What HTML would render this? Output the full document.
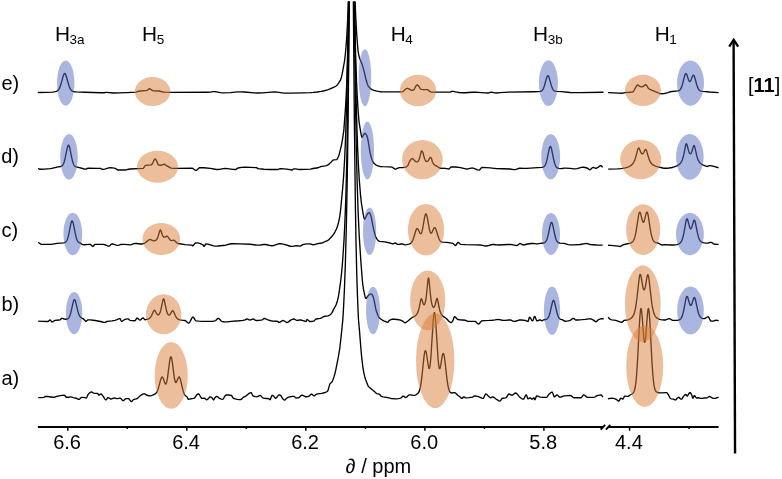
<!DOCTYPE html>
<html><head><meta charset="utf-8">
<style>
html,body{margin:0;padding:0;background:#fff;}
svg{display:block;}
text{font-family:"Liberation Sans",sans-serif;fill:#000;}
.tr polyline{fill:none;stroke:#000;stroke-width:1.35;stroke-linejoin:round;stroke-linecap:butt;}
ellipse.b{fill:rgb(85,109,193);fill-opacity:0.5;}
ellipse.o{fill:rgb(217,125,55);fill-opacity:0.5;}
</style></head>
<body>
<svg width="782" height="479" viewBox="0 0 782 479">
<defs><clipPath id="cp"><rect x="0" y="1.5" width="782" height="470"/></clipPath></defs>
<rect width="782" height="479" fill="#fff"/>
<g font-size="20" style="will-change:transform">
<text x="54.9" y="40.75" font-size="20.8">H<tspan font-size="13.5" dx="-0.5" dy="3">3a</tspan></text>
<text x="142.1" y="40.75" font-size="20.8">H<tspan font-size="13.5" dx="-0.5" dy="3">5</tspan></text>
<text x="390.7" y="40.75" font-size="20.8">H<tspan font-size="13.5" dx="-0.5" dy="3">4</tspan></text>
<text x="533.1" y="40.75" font-size="20.8">H<tspan font-size="13.5" dx="-0.5" dy="3">3b</tspan></text>
<text x="654.8" y="40.75" font-size="20.8">H<tspan font-size="13.5" dx="-0.5" dy="3">1</tspan></text>
<text x="1.4" y="90.1">e)</text>
<text x="1.2" y="162.9">d)</text>
<text x="1.4" y="236.9">c)</text>
<text x="1.4" y="311.1">b)</text>
<text x="1.4" y="385">a)</text>
<text x="748" y="92.4">[<tspan font-weight="bold">11</tspan>]</text>
<g text-anchor="middle">
<text x="67.1" y="449">6.6</text>
<text x="186.1" y="449">6.4</text>
<text x="305.1" y="449">6.2</text>
<text x="424.2" y="449">6.0</text>
<text x="543.2" y="449">5.8</text>
<text x="628.9" y="449">4.4</text>
</g>
<text x="345.8" y="472.5">∂ / ppm</text>
</g>
<g class="tr" clip-path="url(#cp)">
<polyline points="37.8,92.54 46.05,92.41 52.3,92.13 54.05,91.87 56.05,91.45 56.8,91.19 57.55,90.75 58.3,90.05 58.8,89.38 59.8,87.42 60.8,84.57 63.3,75.63 64.05,73.91 64.55,73.43 64.8,73.41 65.3,73.84 66.05,75.5 68.8,85.26 69.55,87.36 70.55,89.37 71.55,90.59 72.05,90.97 72.8,91.36 74.3,91.74 76.55,91.95 84.55,92.28 101.55,92.75 104.05,92.77 105.8,92.39 106.55,92.38 113.8,92.98 119.55,92.91 126.55,92.65 136.05,92.09 136.55,91.97 138.05,91.38 138.8,91.23 146.8,90.43 147.3,90.27 148.8,88.88 149.3,88.69 150.05,88.92 152.8,90.75 159.55,91 161.05,91.52 162.05,91.76 163.8,92.09 165.05,92.2 171.55,92.3 206.05,92.26 210.3,92.18 213.3,91.69 214.55,91.6 216.3,91.79 220.55,92.68 222.55,92.8 230.55,92.57 237.55,91.9 240.3,91.8 244.55,91.99 254.05,92.85 258.05,93 262.3,92.84 271.3,92.12 275.05,92 277.3,92.15 283.8,93.06 289.8,93.08 303.55,92.81 310.3,92.59 313.3,92.39 317.3,91.96 321.3,91.39 324.3,90.73 327.55,89.83 330.05,88.9 334.05,87.15 336.05,85.98 337.3,84.94 338.8,82.96 340.3,80.4 341.05,78.58 342.05,74.66 344.5,61.25 345.28,54.75 346.02,46.9 346.76,36.61 347.41,24.99 348.04,10.96 348.66,-6 354.81,-6 355.64,14.35 356.48,30.49 357.51,44.9 358.1,51.25 358.35,52.63 359.1,56.35 359.6,58.15 360.1,59.52 361.85,63.61 363.1,67.62 364.6,73.34 365.85,79.01 367.35,84 367.85,85.21 368.35,86.11 369.6,87.81 371.1,89.1 372.6,89.85 374.1,90.36 375.85,90.81 379.35,91.57 381.1,91.79 387.6,91.89 395.35,91.88 399.85,91.81 402.85,91.6 403.35,91.4 404.85,89.82 405.85,89.04 406.6,88.55 407.1,88.4 407.6,88.44 408.35,88.68 409.85,89.37 411.1,90.1 411.6,90.28 412.6,90.21 413.85,89.77 414.35,89.09 415.35,86.93 416.35,85.45 416.85,84.93 417.1,84.81 417.6,84.94 418.1,85.43 419.1,86.73 420.1,88.45 420.6,89.09 421.6,89.4 422.85,89.57 427.35,89.61 427.85,89.84 429.1,90.89 430.35,91.71 430.85,91.97 431.35,92.1 437.6,92.19 450.1,92.19 450.6,92 451.6,91.39 452.1,91.3 453.1,91.4 455.6,91.93 459.1,92.46 462.35,92.79 465.1,92.75 472.1,92.28 475.35,92.2 478.35,92.33 485.1,92.89 488.1,92.99 488.85,92.84 490.35,92.29 491.1,92.19 492.35,92.34 494.85,92.89 496.1,92.99 500.1,92.58 508.35,92.13 533.35,91.74 538.85,91.55 540.35,91.35 541.35,90.99 542.35,90.18 543.1,89.08 543.6,88.04 544.35,85.97 546.35,78.69 546.85,77.17 547.35,76.12 547.6,75.83 547.85,75.7 548.1,75.76 548.35,75.98 548.6,76.37 549.1,77.57 551.35,85.61 552.35,88.33 552.85,89.29 553.6,90.28 554.35,90.86 555.1,91.18 556.85,91.45 561.35,91.69 570.1,92.46 573.85,92.66 580.1,92.64 603.5,92.29"/>
<polyline points="608.1,92.59 618.85,93.2 622.1,93.29 622.85,93.18 625.1,92.6 630.1,92.27 631.85,92.05 633.1,91.67 633.6,91.31 635.85,87.03 636.35,86.24 637.35,85.02 637.6,84.89 637.85,84.9 638.35,85.23 639.35,86.2 640.6,86.72 641.6,86.87 642.35,86.72 643.6,86.16 644.85,84.92 645.35,84.67 645.85,84.84 646.35,85.3 647.1,86.19 648.35,88.31 649.35,89.08 651.6,90.17 658.35,92.96 659.35,93.3 660.6,93.57 662.1,93.72 663.85,93.57 665.6,93.22 668.1,92.54 669.85,91.77 678.1,90.87 679.1,90.51 679.85,89.99 680.6,89.09 681.35,87.66 681.85,86.34 682.6,83.83 684.6,75.86 685.35,73.99 685.6,73.7 685.85,73.59 686.1,73.68 686.6,74.36 687.1,75.58 688.6,80.02 689.1,81 689.6,81.47 689.85,81.5 690.1,81.39 690.6,80.78 691.1,79.75 692.35,76.54 692.85,75.6 693.1,75.32 693.35,75.19 693.6,75.24 693.85,75.45 694.35,76.36 694.85,77.79 696.6,84.29 697.6,87.34 698.1,88.47 698.85,89.69 699.35,90.23 700.1,90.77 701.1,91.14 702.85,91.42 709.6,92.03 718.7,92.63"/>
<polyline points="38.2,168.37 39.2,169.01 39.95,169.27 44.7,169.12 50.2,168.7 51.7,168.44 58.2,166.92 60.7,166.48 61.45,166.21 61.95,165.92 62.7,165.18 63.2,164.41 63.7,163.33 64.2,161.92 65.2,157.98 67.2,148.05 67.95,145.66 68.2,145.27 68.45,145.1 68.7,145.18 68.95,145.5 69.45,146.78 69.95,148.77 71.7,157.66 72.45,160.9 73.2,163.31 73.7,164.47 74.2,165.33 74.7,165.94 75.2,166.36 76.2,166.84 78.45,167.3 83.45,168.76 85.45,169.09 86.2,169.09 87.45,168.39 87.95,168.23 97.2,168.32 100.2,168.39 100.7,168.52 102.45,169.29 103.2,169.37 104.7,169.14 108.7,167.93 110.45,167.79 112.7,167.94 115.2,168.34 115.7,168.6 117.2,169.72 117.95,169.99 124.95,169.99 126.2,169.86 128.7,169.21 129.95,169 142.95,168.41 143.2,168.37 143.45,168.19 144.7,166.3 145.45,165.42 145.7,165.3 151.45,164.85 151.95,164.34 152.7,163.07 153.95,160.27 154.7,159.22 154.95,159.03 155.2,159.01 155.7,159.39 156.45,160.52 157.95,164.14 158.45,165.03 158.7,165.2 160.7,165.28 163.7,164.32 164.45,164.2 164.95,164.4 165.95,165.36 167.95,166.38 170.95,168.15 173.7,168.33 177.45,168.4 192.2,168.21 192.7,168.38 193.2,168.67 195.2,170.17 195.95,170.4 196.45,170.3 196.95,170 198.95,168.08 199.45,167.74 199.95,167.6 203.95,167.75 210.2,168.32 215.45,169.26 217.45,169.49 219.45,169.39 223.2,168.66 224.95,168.5 227.2,168.61 232.95,169.33 235.7,169.5 236.2,169.34 237.45,168.29 237.95,168.01 241.45,167.41 244.95,167.2 250.95,167.31 255.7,167.65 256.95,167.79 257.2,167.91 257.95,168.69 263.95,169.23 269.95,169.46 277.95,169.5 278.45,169.4 279.7,168.75 281.2,168.72 283.7,168.86 286.7,169.17 289.95,169.59 291.95,170 292.45,169.84 293.45,169.02 293.95,168.8 295.45,168.9 298.45,169.38 299.7,169.49 305.45,169.41 310.45,169.15 312.95,168.51 318.2,167.75 320.7,166.68 325.2,165.95 326.45,165.54 327.95,164.83 328.95,164.15 330.7,162.6 332.45,160.65 333.2,160.04 333.7,159.89 336.7,159.67 337.2,159.1 338.2,157.07 338.95,155.05 339.45,153.33 341.45,145.04 342.45,139.55 343.7,131.06 343.95,128.66 345.57,106.75 346.26,94.29 346.85,80.77 347.48,63.01 348.03,43.76 349.11,-6 354.19,-6 355.35,45.31 355.97,65.82 356.61,82.91 357.36,98.31 358.15,110.92 359,121.25 359.75,126.3 361.25,135.14 361.75,137.16 362,137.28 362.25,137.04 364,134.15 364.5,133.5 364.75,133.33 365,133.31 365.5,133.61 366.25,134.6 366.75,135.5 367.25,136.99 368,140 369.75,150.79 370.75,155.53 371.5,158.26 372.25,160.46 373.25,162.28 374.25,163.56 375.75,164.81 376.75,165.38 378,165.93 379.75,166.47 382.75,166.7 389.25,166.95 392,167.2 392.75,167.53 394.25,168.73 395,169.08 395.5,169.08 396.25,168.9 398.5,167.87 399.5,167.55 403.25,167.46 405.75,167.17 406.75,166.61 407.75,165.61 408.25,164.63 409.25,162.12 410.25,160.23 411,159.31 412,158.56 412.5,158.54 412.75,158.67 414,159.9 415,161.1 415.75,161.61 416.5,161.87 417,161.88 417.5,161.65 418,161.23 418.5,160.7 419,159.71 420,156.46 421,152.3 421.5,150.96 421.75,150.93 422.25,151.4 423,152.77 424,156.81 424.75,159.18 425.25,160.43 425.75,161.05 426.25,161.46 426.75,161.6 427.25,161.45 427.75,161.11 428.5,160.37 429.5,158.2 430,157.54 430.25,157.34 430.5,157.31 431,157.77 431.5,158.62 432.5,162 433.25,163.49 433.75,164.23 434.75,165.08 436.25,165.91 439.5,167.96 440.25,168.27 445.25,168.31 448,168.89 449,169 449.5,168.68 450.5,167.31 451,167 455.75,167.01 460.5,167.58 464.75,168.7 466.5,168.98 468,168.89 471.25,168.06 472.5,168.03 474,168.43 477.5,169.94 479,170.19 479.25,170.14 479.75,169.77 481.25,167.92 481.75,167.55 482,167.49 485.75,167.57 490.25,167.81 494,168.39 495.75,168.53 510,168.98 513.75,169.58 515,169.68 516.25,169.44 518.75,168.41 519.75,168.18 524.25,168.44 526.5,168.43 541.75,167.44 543,167.19 544,166.67 544.75,165.88 545.5,164.53 546.25,162.43 546.75,160.57 549.25,148.77 549.75,147.24 550,146.77 550.25,146.53 550.5,146.53 550.75,146.76 551,147.22 551.5,148.75 553.75,159.77 554.5,162.84 555,164.42 555.5,165.65 556.25,166.91 557,167.66 557.75,168.07 559,168.4 560.75,168.56 562,168.53 564.5,168.19 565.5,168.19 570.25,168.45 573.75,168.89 575.25,168.95 577,168.7 581.5,167.43 582.5,167.29 583.5,167.29 585,167.49 587,167.98 587.75,168.4 589.25,169.58 590,169.78 590.75,169.36 592,168.05 592.75,167.53 593.5,167.54 595.5,168.23 596,168.29 596.5,168.21 597.5,167.68 599.5,166.16 600.5,165.72 601,165.71 601.5,165.96 602.7,167.19"/>
<polyline points="608.2,169.15 617.45,168.85 620.45,168.65 622.45,168.4 625.2,167.88 627.2,167.32 629.2,166.52 630.7,165.67 631.7,164.88 632.7,163.81 633.45,162.73 634.2,161.33 634.95,159.52 635.7,157.19 637.7,149.6 638.2,148.42 638.45,148.12 638.7,148.03 638.95,148.14 639.45,148.89 640.7,151.97 641.2,152.98 641.7,153.65 642.2,153.93 642.7,153.81 643.2,153.31 643.7,152.48 644.7,150.42 645.2,149.67 645.45,149.5 645.7,149.49 645.95,149.67 646.2,150.03 646.7,151.23 648.7,158.07 649.95,161.16 650.7,162.47 651.7,163.74 652.7,164.64 653.95,165.43 655.45,166.07 657.95,166.8 662.95,168.02 664.45,168.26 666.7,168.26 669.2,168.01 672.2,167.5 674.2,166.94 676.95,165.93 678.7,164.93 679.45,164.33 680.2,163.56 681.45,161.73 682.45,159.46 683.2,157.05 683.95,153.85 685.45,146.03 685.95,144.25 686.2,143.81 686.45,143.71 686.7,143.95 687.2,145.28 688.45,150.33 688.95,151.94 689.45,153.07 689.7,153.45 690.2,153.82 690.45,153.82 690.7,153.69 690.95,153.43 691.45,152.56 691.95,151.23 693.45,146.22 693.7,145.75 693.95,145.55 694.2,145.65 694.45,146.05 694.95,147.65 696.7,155.63 697.7,158.93 698.45,160.66 699.2,161.93 699.95,162.87 700.95,163.79 702.7,164.82 706.7,166.43 707.45,166.49 709.45,165.63 710.2,165.59 712.95,166.13 718.6,167.74"/>
<polyline points="38.2,242.16 40.45,243.92 41.2,244.3 41.95,244.45 51.2,244.36 57.2,243.42 63.7,242.86 64.7,242.62 65.45,242.24 66.2,241.55 66.7,240.81 67.2,239.78 67.7,238.41 68.7,234.55 70.95,223.37 71.45,221.77 71.7,221.28 71.95,221.01 72.2,220.99 72.45,221.21 72.7,221.67 73.45,224.23 75.2,233.19 76.2,237.5 76.95,239.77 77.45,240.84 77.95,241.62 78.45,242.16 78.95,242.53 80.45,243.14 81.95,244.27 82.7,244.68 84.2,244.74 88.7,244.4 90.2,244.39 90.95,244.85 92.2,246.03 92.95,246.38 93.2,246.33 93.45,246.12 94.45,244.76 94.95,244.39 103.45,244.42 104.7,244.74 107.7,245.97 108.95,246.18 109.2,246.15 109.7,245.86 111.2,244.28 111.7,243.93 111.95,243.87 113.2,244.02 116.45,245.1 117.95,245.33 118.95,245.18 120.95,244.48 121.95,244.3 124.7,244.4 130.2,244.94 131.45,244.65 133.95,243.67 135.2,243.44 136.7,243.49 140.7,244.04 141.7,244.03 142.7,243.86 143.95,243.42 145.2,242.78 146.45,241.89 148.7,239.99 149.7,239.51 150.2,239.48 150.7,239.56 152.95,240.59 153.95,240.83 154.95,240.75 155.95,240.22 156.7,239.41 157.45,238.12 158.2,236.16 159.7,230.94 159.95,230.37 160.2,230.04 160.45,230.01 160.7,230.27 160.95,230.77 162.2,234.53 162.7,235.73 163.2,236.56 163.95,237.18 164.7,237.2 166.45,236.29 166.95,236.26 167.2,236.34 167.95,236.97 169.7,239.4 170.7,240.34 171.2,240.56 171.7,240.61 173.45,240.21 174.2,240.37 174.95,240.93 176.7,242.72 177.45,243.22 178.2,243.51 184.95,244.58 191.45,245.17 191.95,245.25 192.45,245.76 192.7,245.74 193.2,245.45 194.95,243.38 195.45,242.95 195.95,242.81 197.45,242.92 198.7,243.15 200.2,243.58 201.45,244.08 202.95,244.84 203.2,245.1 203.7,246.09 203.95,246.37 204.2,246.31 204.45,246.06 205.45,244.35 205.7,244.04 205.95,243.89 207.7,244.11 213.7,245.92 215.2,246.12 217.95,245.98 225.2,245.22 226.45,244.96 229.95,244.01 231.95,243.76 240.45,243.89 250.2,244.28 255.7,245.02 257.7,245.17 259.7,245.07 263.7,244.54 265.45,244.49 266.95,244.73 270.45,245.62 271.95,245.78 272.95,245.7 273.95,245.47 278.45,243.89 279.45,243.71 280.45,243.69 281.7,243.83 283.2,244.14 290.45,246.24 291.45,246.45 292.7,246.43 294.95,245.91 295.95,245.79 299.95,246.19 300.7,245.98 302.7,244.58 304.95,244.17 307.7,243.87 310.2,243.8 310.95,244.03 312.45,244.7 313.2,244.79 314.45,244.58 317.7,243.55 321.95,243 322.95,242.64 324.95,241.51 327.45,240.57 328.45,239.98 330.95,237.5 332.95,235.06 334.95,232.01 336.45,228.99 337.7,225.5 338.7,221.81 339.7,216.83 340.45,211.46 342.7,187.88 343.64,175.96 344.68,158.2 345.55,137.81 346.42,109.95 347.17,77.96 347.88,38.29 348.51,-6 354.48,-6 355.61,71.37 356.24,101.89 356.9,126.99 357.61,147.62 358.46,166.11 359.38,181.01 360.6,196.04 361.35,202.73 362.35,209.17 363.35,214.79 364.1,218.38 364.35,219.14 364.6,219.26 365.1,218.67 367.35,213.96 368.1,213.24 368.85,212.77 369.35,212.69 369.6,212.84 369.85,213.19 370.6,214.94 371.1,216.53 373.6,229.23 375.1,235.09 375.6,236.58 376.1,237.66 377.1,239.35 378.1,240.61 378.85,241.12 379.85,241.36 384.85,241.94 389.1,242.74 390.35,243.06 392.6,243.91 393.35,243.86 394.6,243.04 395.1,242.94 395.6,243.09 397.1,244.1 397.85,244.41 398.85,244.35 401.1,243.96 402.1,243.88 402.85,244.07 404.35,244.73 405.35,244.82 406.6,244.65 408.85,244.14 409.6,243.92 410.35,243.57 411.1,242.98 411.6,242.4 412.6,240.64 413.6,237.96 415.85,230.51 416.35,229.38 416.85,228.72 417.1,228.6 417.35,228.61 417.85,229.01 418.35,229.83 419.6,232.56 420.35,233.63 420.6,233.75 420.85,233.72 421.35,233.18 421.85,231.94 422.6,228.82 424.35,218.61 424.85,216.16 425.35,214.49 425.6,214.01 425.85,213.81 426.1,213.88 426.35,214.22 426.85,215.67 427.35,217.94 429.35,229.22 430.1,231.96 430.6,232.93 430.85,233.16 431.1,233.22 431.6,232.88 432.1,232.07 433.85,228.25 434.35,227.69 434.6,227.6 434.85,227.64 435.35,228.14 436.1,229.79 438.1,236.34 438.85,238.44 439.6,240 440.1,240.76 440.6,241.3 441.35,241.82 442.35,242.13 446.85,242.43 451.6,243.1 452.85,243.37 453.35,243.61 454.85,245.36 455.35,245.62 455.6,245.57 456.1,245.06 457.1,243.32 457.6,242.64 457.85,242.47 458.1,242.44 458.85,242.82 460.1,243.98 460.85,244.42 465.6,244.66 475.85,244.83 480.1,244.98 481.35,245.15 484.6,245.85 485.85,245.98 487.6,245.78 491.1,244.75 492.6,244.49 493.85,244.52 496.85,244.91 498.1,244.98 507.6,244.53 510.35,244.48 511.85,244.65 515.35,245.33 517.1,245.46 517.6,245.26 519.1,243.9 519.85,243.48 520.6,243.62 522.35,244.78 523.1,244.96 524.6,244.76 527.6,244.01 531.35,243.51 533.35,243.43 536.1,243.82 537.1,243.87 540.35,243.33 543.6,243.02 544.6,242.67 545.35,242.13 546.1,241.17 546.85,239.59 547.35,238.12 548.1,235.25 550.35,224.68 550.85,223.16 551.1,222.69 551.35,222.44 551.6,222.42 551.85,222.62 552.1,223.05 552.6,224.5 553.1,226.55 554.85,235.03 555.85,238.75 556.35,240.08 557.1,241.47 557.85,242.3 558.6,242.76 560.1,243.13 564.1,243.44 568.1,244.63 569.85,244.92 574.1,244.84 580.1,244.46 585.1,243.63 586.85,243.48 587.6,243.57 589.35,244.31 590.35,244.52 596.6,245.02 602.7,245.19"/>
<polyline points="608.1,245.28 610.6,245.33 613.6,245.57 618.1,246.1 619.35,246.44 620.1,246.51 620.85,246.23 622.85,244.92 625.35,244.23 629.1,243.44 630.35,243.09 631.6,242.54 632.6,241.76 633.35,240.8 633.85,239.87 634.6,237.91 635.1,236.13 635.6,233.92 636.35,229.81 638.6,215.17 639.1,213.07 639.35,212.44 639.6,212.11 639.85,212.09 640.1,212.36 640.6,213.67 642.35,220.69 642.85,221.87 643.1,222.18 643.35,222.28 643.6,222.18 643.85,221.87 644.35,220.69 645.85,214.59 646.35,212.89 646.6,212.34 646.85,212.06 647.1,212.07 647.35,212.39 647.85,213.94 648.35,216.47 650.1,228.09 650.85,232.46 651.6,235.91 652.6,239.05 653.1,240.09 653.6,240.87 654.1,241.45 654.85,242.05 656.1,242.62 658.6,243.26 661.35,244.84 662.35,244.99 664.85,244.6 670.85,245 673.35,245.01 675.1,244.9 676.85,244.57 678.35,244.09 679.35,243.58 680.35,242.77 681.1,241.82 681.6,240.94 682.35,239.13 682.85,237.52 683.85,233.22 686.1,220.77 686.6,219.18 686.85,218.82 687.1,218.76 687.35,219.02 687.85,220.28 689.6,227.05 690.1,228.24 690.6,228.77 690.85,228.78 691.1,228.62 691.35,228.28 691.85,227.16 693.35,221.83 693.85,220.51 694.1,220.17 694.35,220.09 694.6,220.3 694.85,220.79 695.35,222.5 697.35,232.69 698.35,236.68 698.85,238.18 699.6,239.85 700.35,240.97 701.1,241.71 702.1,242.31 703.1,242.66 704.35,242.92 705.85,243.08 708.1,243.06 710.35,242.38 711.1,242.34 711.85,242.65 713.1,243.57 713.85,243.96 716.1,244.28 718.6,244.44"/>
<polyline points="38.2,321.17 42.45,321.41 47.95,321.45 48.45,321.26 49.45,320.23 49.95,319.95 50.2,320 50.45,320.2 51.7,321.82 51.95,321.93 52.2,321.92 52.7,321.75 54.2,320.77 54.95,320.43 58.95,320.04 60.2,319.79 61.45,318.6 61.95,318.34 62.7,318.43 64.2,319.02 64.95,319.21 66.7,319.22 67.7,318.91 68.45,318.33 68.95,317.69 69.45,316.8 69.95,315.6 70.95,312.2 73.2,302.14 73.95,300.09 74.2,299.78 74.45,299.67 74.7,299.78 74.95,300.1 75.45,301.28 76.2,304.07 77.95,311.58 78.7,314.02 79.45,315.75 79.95,316.55 80.7,317.37 81.7,318.06 83.45,318.92 85.45,321.08 85.95,321.3 86.2,321.26 86.7,320.89 87.45,320.11 87.95,319.84 89.95,319.93 93.2,320.21 95.2,320.49 100.45,321.51 103.45,322.25 104.7,322.41 105.45,322.31 106.95,321.43 111.95,320.92 115.2,320.36 116.2,319.99 118.45,318.93 119.7,318.6 119.95,318.59 120.2,318.72 121.2,321.09 121.45,321.37 121.95,321.3 122.45,321.06 124.7,319.47 126.2,319.06 127.45,318.86 128.2,318.87 128.45,319.01 129.45,319.99 129.95,320.3 132.2,320.63 134.45,320.74 135.2,320.66 135.7,319.99 136.45,318.59 136.7,318.26 136.95,318.1 137.2,318.11 137.7,318.36 139.2,319.75 139.95,320.09 140.2,320.05 140.7,319.78 142.2,318.32 142.95,317.92 143.2,317.95 143.45,318.13 144.45,319.41 144.95,319.72 146.7,319.45 148.2,319.02 149.45,318.34 150.2,317.65 150.7,317.02 151.7,315.29 153.45,311.28 153.95,310.52 154.2,310.33 154.45,310.29 154.95,310.65 156.7,313.73 157.45,314.64 157.95,314.93 158.45,314.92 158.95,314.6 159.2,314.3 159.95,312.84 160.7,310.46 162.95,300.03 163.2,299.34 163.45,298.96 163.7,298.93 163.95,299.25 164.45,300.8 165.95,308.22 166.7,311.31 167.45,313.45 168.2,314.69 168.45,314.91 168.95,315.1 169.2,315.08 169.7,314.81 170.45,313.92 171.7,311.69 172.2,310.97 172.7,310.69 172.95,310.76 173.2,310.99 173.7,311.81 175.2,315.33 175.95,316.8 176.7,317.9 177.45,318.67 178.45,319.32 179.95,319.85 181.7,320.17 184.95,320.47 185.45,320.61 186.2,321.19 187.7,322.72 188.45,323.13 188.95,323.05 189.45,322.57 190.2,321.33 191.95,317.93 192.45,317.31 192.95,317.06 193.2,317.11 193.7,317.57 195.2,320.09 195.7,320.67 195.95,320.8 198.95,321.13 202.2,321.33 210.7,321.4 212.7,321.27 214.95,320.94 215.7,320.53 217.45,318.67 217.95,318.38 218.2,318.34 218.7,318.47 219.2,318.83 220.95,320.74 221.7,321.33 223.7,321.76 225.7,321.95 227.2,321.87 231.2,321.33 239.2,320.75 242.7,320.36 245.2,319.91 246.45,319.14 246.95,318.97 247.7,319.11 249.2,319.8 249.95,319.97 250.7,319.84 252.45,319.06 253.2,319 253.7,319.18 255.2,320.21 255.7,320.44 256.95,320.47 259.2,320.34 262.2,319.92 263.7,318.71 264.2,318.49 264.45,318.49 265.45,318.75 267.95,319.97 270.7,320.75 272.45,321.04 276.2,321.26 277.95,321.48 278.2,321.61 278.95,322.48 279.45,322.42 279.95,322.2 281.95,320.83 282.45,320.59 282.95,320.49 283.45,320.56 283.95,320.77 286.2,322.28 286.95,322.49 287.45,322.42 288.45,321.88 290.7,320.14 292.7,319.25 293.95,318.99 294.7,319.2 296.2,320.23 296.7,320.45 297.45,320.46 299.7,320 300.7,320.03 303.2,320.54 305.2,321.35 305.95,321.49 306.2,321.28 306.7,319.92 306.95,319.51 307.2,319.52 307.95,319.97 309.45,321.31 309.95,321.49 310.95,321.46 312.7,321.26 314.2,320.9 315.45,319.41 315.95,319.01 320.2,318.44 320.95,318.15 322.95,316.96 323.95,316.51 325.2,316.22 327.7,315.83 328.95,315.51 329.95,314.98 330.95,314.09 331.95,312.84 333.95,308.59 335.45,306.1 336.2,304.52 337.45,300.68 338.45,296.28 339.2,291.62 340.45,282.74 341.7,271.99 342.7,260.06 344.03,239.78 344.88,222.53 345.67,201.58 346.34,178.89 346.97,151.86 348.1,85.88 349.23,-6 354.06,-6 354.82,56.86 355.57,107.6 356.33,148.55 357.21,184.28 358.15,212.56 359.17,234.95 360.85,261.12 362.35,280.52 362.85,284.93 363.6,289.89 364.85,295.83 365.35,297.6 365.6,298.15 365.85,298.4 366.1,298.36 366.35,298.19 367.85,296.07 369.1,294.73 369.6,294.34 370.1,294.18 371.6,294.09 371.85,294.14 372.1,294.4 373.1,296.64 373.6,298.3 374.35,301.48 375.6,308.22 376.35,311.04 377.85,315.28 378.6,316.77 379.1,317.47 380.35,318.71 382.35,320.04 384.35,321.04 386.6,321.98 387.35,322.21 388.1,322.24 388.85,320.93 389.1,320.7 390.85,319.71 392.35,319.26 394.1,319.22 397.1,319.51 400.6,320.2 401.6,320.63 403.1,321.46 404.6,322.69 405.1,322.76 405.85,322.44 407.6,321.18 412.1,317.47 412.85,317.03 414.35,316.36 415.35,315.7 416.35,314.73 417.1,313.67 417.85,312.17 418.35,310.8 419.35,306.86 420.6,300.41 421.1,298.92 421.35,298.75 421.6,298.97 421.85,299.52 422.85,302.85 423.35,304.09 423.6,304.47 423.85,304.68 424.1,304.71 424.35,304.57 424.85,303.73 425.1,303.02 425.85,299.56 426.35,295.97 427.6,283.25 428.1,279.07 428.35,278.06 428.6,277.99 428.85,278.88 429.1,280.61 430.35,293.8 431.1,300.05 431.85,304.09 432.6,306.41 433.1,307.2 433.6,307.45 434.1,307.19 434.35,306.86 435.1,304.99 436.6,298.98 436.85,298.48 437.1,298.4 437.35,298.77 437.85,300.69 438.85,306.25 439.6,309.71 440.35,312.14 441.1,313.82 441.85,314.99 442.85,316.07 446.35,318.49 448.85,321.23 450.1,322.21 450.85,322.57 451.1,322.6 451.6,322.32 452.35,321.32 453.1,320.09 454.1,317.32 454.35,316.84 454.6,316.67 455.35,317.03 457.1,318.95 457.85,319.48 459.6,319.75 465.1,320.22 467.1,321.04 467.85,321.24 475.1,321.33 475.85,321.75 477.6,323.66 478.1,323.98 478.35,324.04 478.85,323.92 479.35,323.52 481.1,321.43 481.85,320.9 484.1,320.67 489.1,320.45 492.1,320.22 495.1,319.9 497.85,319.42 499.35,319.55 502.35,320.24 503.85,320.42 505.35,320.36 508.85,319.98 510.35,319.96 511.1,320.21 513.1,321.24 513.85,321.43 515.35,321.24 519.1,320.03 519.85,319.94 521.35,319.98 525.1,320.45 527.1,321.24 527.85,321.42 528.1,321.37 528.35,320.85 529.1,317.96 529.35,317.34 529.6,317.23 529.85,317.36 530.35,317.94 531.85,320.47 532.35,320.89 532.6,320.88 532.85,320.6 533.1,320.09 534.1,317.22 534.35,316.71 534.6,316.43 534.85,316.45 535.1,316.76 536.35,320.01 536.85,320.83 537.1,320.88 537.6,320.77 539.35,319.97 540.1,319.85 540.6,320.05 541.6,320.7 542.1,320.79 542.6,320.56 543.85,319.74 545.6,319.53 546.85,319.07 547.6,318.46 548.35,317.4 549.1,315.71 549.85,313.28 552.35,302.5 552.85,301.09 553.1,300.65 553.35,300.42 553.6,300.39 553.85,300.59 554.1,300.98 554.6,302.33 557.1,313.1 557.85,315.57 558.6,317.31 559.35,318.41 560.1,319.04 560.85,319.39 562.1,319.65 562.6,319.84 564.6,321.12 565.35,321.21 566.85,321.1 568.35,320.82 570.1,320.36 570.85,319.92 572.35,318.68 572.85,318.41 573.35,318.32 573.85,318.52 575.35,319.84 575.85,320.03 577.85,319.98 581.85,319.68 585.35,319.32 588.6,318.85 590.35,318.79 591.6,319.16 593.35,320.05 593.85,320.37 595.1,321.45 595.85,321.77 596.1,321.74 596.6,321.45 598.1,319.96 599.6,319.26 600.6,318.93 601.35,318.79 603.7,318.78"/>
<polyline points="608.1,317.17 609.6,318.77 610.35,319.34 610.85,319.58 611.85,319.81 614.35,320.11 615.6,320.35 618.6,321.31 620.6,322.1 621.6,322.26 622.1,322.15 622.35,321.99 623.6,320.73 624.1,320.38 627.35,319.96 628.6,319.56 629.85,319.02 631.35,318.06 632.6,316.73 633.6,314.95 634.35,312.92 635.1,310.05 635.6,307.55 636.85,298.98 639.1,278.78 639.6,275.77 639.85,274.84 640.1,274.36 640.35,274.32 640.6,274.72 641.1,276.62 642.6,285.64 643.1,287.99 643.6,289.45 643.85,289.81 644.1,289.91 644.35,289.74 644.6,289.31 645.1,287.72 645.6,285.29 646.85,277.74 647.35,275.52 647.6,274.89 647.85,274.66 648.1,274.88 648.6,276.62 649.1,279.86 651.35,299.86 652.1,305.18 652.85,309.3 653.85,313.13 654.85,315.52 655.35,316.34 656.1,317.26 656.85,317.93 657.6,318.43 659.1,319.13 660.6,319.58 662.35,319.89 664.35,320.03 665.6,319.97 668.35,318.85 669.1,318.69 669.6,318.7 670.35,319.01 672.1,320.19 672.85,320.45 675.6,320.39 677.6,320.22 679.1,319.87 680.1,319.34 680.85,318.64 681.35,317.92 682.1,316.35 682.6,314.88 683.6,310.82 685.85,299.02 686.35,297.28 686.6,296.74 686.85,296.44 687.1,296.4 687.35,296.61 687.85,297.66 689.35,303.01 689.85,304.44 690.35,305.3 690.6,305.48 690.85,305.49 691.1,305.32 691.6,304.5 692.1,303.15 693.35,299.01 693.85,297.87 694.1,297.57 694.35,297.48 694.6,297.63 694.85,298 695.6,300.32 697.35,308.67 698.35,312.73 698.85,314.26 699.6,315.95 700.1,316.74 700.85,317.53 701.6,318.01 702.35,318.3 703.6,318.57 704.35,318.63 705.35,318.25 707.35,316.97 707.85,316.81 708.35,316.82 708.85,317.39 710.35,320.5 710.85,321.06 713.35,321.13 715.35,320.33 715.85,320.22 717.35,320.36 718.6,320.76"/>
<polyline points="38.2,397.7 41.2,397.61 43.95,397.31 44.2,397.21 44.95,396.49 45.2,396.4 47.2,396.52 52.95,397.23 54.45,397.28 56.45,396.47 59.2,395.84 61.95,395.36 64.45,395.2 64.95,395.63 65.7,396.8 66.2,397.28 68.45,397.28 69.95,396.82 70.7,396.84 73.45,397.71 76.95,398.52 78.7,399.33 79.2,399.39 79.7,399.04 80.7,397.88 80.95,397.72 81.95,397.43 83.2,397.31 85.7,397.95 86.2,398 86.45,397.87 86.95,397 87.7,395.18 88.2,394.39 89.45,393.03 90.2,392.4 90.95,392.04 91.45,392.01 91.95,392.18 93.2,392.98 93.7,393.18 97.7,393.5 97.95,393.72 98.7,395.08 98.95,395.2 99.45,394.96 100.45,394.07 100.95,393.9 101.2,393.98 101.7,394.41 103.2,396.32 104.95,399.12 105.45,399.67 105.95,399.9 106.2,399.83 106.45,399.59 107.45,398.01 107.7,397.77 107.95,397.7 108.7,397.9 110.2,398.75 110.95,398.99 111.7,398.91 113.45,398.17 114.2,398 114.95,398.1 116.7,398.6 117.45,398.55 119.45,398.14 120.2,398.13 120.95,398.65 122.45,400.34 122.95,400.65 123.2,400.7 123.45,400.65 123.95,400.31 124.95,399.23 125.45,398.82 125.95,398.69 128.2,398.6 128.45,398.62 128.95,398.92 130.7,401.13 131.2,401.53 131.45,401.6 131.95,401.37 132.95,400.09 133.45,399.62 134.2,399.37 136.2,398.96 136.95,398.68 137.7,398.13 139.45,396.37 140.2,395.75 141.45,394.93 143.45,393.94 144.2,393.8 144.7,393.91 146.45,395 148.95,395.79 150.2,395.89 151.45,395.66 153.2,394.97 155.2,393.91 156.2,392.93 156.95,391.8 157.7,390.24 158.2,388.87 160.7,379.51 161.2,378.1 161.7,377.24 161.95,377.04 162.2,377.01 162.45,377.13 162.95,377.84 163.45,379.02 164.7,382.65 165.2,383.67 165.45,383.95 165.7,384.05 165.95,383.94 166.2,383.61 166.7,382.21 167.45,378.33 169.2,364.38 169.95,359.36 170.45,357.38 170.7,356.91 170.95,356.81 171.2,357.08 171.45,357.71 171.95,359.97 172.45,363.29 174.2,376.96 174.7,379.76 175.2,381.61 175.45,382.16 175.7,382.47 175.95,382.54 176.2,382.42 176.7,381.65 177.95,378.48 178.45,377.48 178.95,377 179.2,377 179.45,377.17 179.95,378.03 180.45,379.5 182.7,389.24 183.45,391.9 183.95,393.27 184.45,394.34 184.95,395.14 185.7,395.95 186.95,396.77 187.95,398.81 188.2,399.18 188.45,399.28 189.2,399.21 190.95,398.79 193.2,398.41 194.45,398.02 194.95,397.52 196.2,395.53 196.7,394.89 197.7,394.06 198.2,393.82 198.45,393.8 198.7,393.91 199.2,394.49 201.45,398.2 201.7,398.38 201.95,398.4 204.45,398.12 204.95,398.39 206.2,399.55 206.7,399.79 206.95,399.78 207.45,399.48 208.7,398.19 209.7,396.98 209.95,396.83 210.2,396.8 210.95,397.05 211.95,397.73 213.2,399.65 213.45,399.8 213.7,399.73 213.95,399.46 214.95,397.77 215.95,396.8 216.7,396.41 217.2,396.48 217.7,396.76 219.2,398.15 219.95,398.7 221.45,399.14 222.7,399.3 222.95,399.22 223.45,398.64 224.45,396.79 224.95,396.05 225.95,395.07 226.45,394.9 228.95,395.03 231.2,395.38 231.45,395.47 231.7,395.71 232.95,397.86 233.45,398.32 235.2,398.92 237.2,399.4 239.2,399.65 240.7,399.67 241.45,399.19 243.2,397.37 246.2,395.84 249.2,393.32 250.2,392.81 250.95,392.6 251.2,392.68 251.45,392.95 252.45,395 252.95,395.79 253.95,396.26 255.45,396.69 256.7,396.8 257.45,396.6 259.45,395.56 259.95,395.42 260.45,395.45 260.95,395.82 262.45,397.65 262.95,397.99 264.2,398.21 267.2,398.46 268.45,398.66 268.95,398.9 269.7,399.59 269.95,399.7 270.2,399.59 270.45,399.19 271.45,396.38 271.95,395.46 272.2,395.4 272.7,395.52 273.7,396.05 274.95,397.83 275.45,398.27 275.7,398.29 275.95,398.2 276.45,397.8 278.45,395.21 278.95,394.92 279.45,394.94 280.7,395.47 281.2,396.1 282.2,398 282.7,398.7 283.95,399.79 284.7,400.1 285.2,399.93 286.45,398.4 286.95,397.97 288.7,397.21 290.45,396.72 292.45,396.4 293.95,396.3 294.45,396.59 295.7,397.91 296.2,398 297.45,397.91 298.7,397.72 299.2,397.51 300.95,395.59 301.45,395.25 301.95,395.22 302.7,395.43 305.45,396.72 306.45,396.77 307.7,396.56 308.95,396.19 309.45,395.81 310.7,394.57 311.45,394.2 311.7,394.22 312.2,394.47 313.7,395.7 314.2,395.89 314.45,395.88 314.95,395.55 315.95,394.48 316.45,394.19 317.95,393.85 321.7,393.36 324.2,392.77 326.45,391.93 327.2,391.46 327.7,390.93 328.2,389.65 329.7,384.4 330.2,383.53 331.7,382.16 332.2,381.42 332.95,379.78 333.95,376.89 334.95,373.5 335.7,370.36 338.2,357.67 339.7,348.79 340.95,338.28 342.8,320 343.53,307.99 344.51,287.42 345.41,261.99 346.16,233.99 346.87,200.11 347.56,159.09 348.15,115.44 349.45,-6 353.28,-6 354.36,121.31 355.43,208.21 355.99,240.68 356.66,270.19 357.38,294.05 358.25,315.07 358.5,320 359.5,330.92 361,350 361.75,357.63 362.75,366.27 363.75,372.28 364.75,376.69 365.5,379.22 366.25,381.34 367.5,384.58 368.25,386.13 369.25,387.31 373.5,390.8 375.75,392.81 377,393.59 379,394.2 379.75,394.53 380.25,395.02 381,396.01 381.5,396.46 383,396.83 386.5,397.32 391,398.47 395.5,398.89 396.75,398.87 398.25,398.67 399.75,398.32 401,397.91 402.5,396.44 403,396.13 403.25,396.1 403.75,396.29 405,397.28 405.5,397.49 405.75,397.49 406.5,397.15 408.5,395.3 409.25,394.86 410.5,394.86 413.5,395.36 414.75,395.33 415.5,395.07 416.5,394.51 418,393.25 418.75,392.26 419.5,390.64 420.25,387.91 420.75,385.29 421.75,377.96 424,356.65 424.5,353.28 425,351.2 425.25,350.71 425.5,350.6 425.75,350.88 426.25,352.48 426.75,355.25 428,364.08 428.75,367.8 429,368.36 429.25,368.49 429.5,368.15 429.75,367.31 430.25,364.08 431,355.58 433.25,319.91 433.75,314.96 434,313.44 434.25,312.63 434.5,312.56 434.75,313.22 435,314.59 435.5,319.29 436,326.1 438,358.16 438.75,365.6 439.25,368.09 439.5,368.59 439.75,368.64 440,368.26 440.25,367.51 440.75,365.14 442,357.33 442.5,354.91 443,353.57 443.25,353.39 443.5,353.57 444,354.96 444.75,359.39 446.75,377.12 447.5,382.81 448.25,387.06 448.75,389.09 449.25,390.57 449.75,391.59 450.25,392.27 450.75,392.69 451.25,392.94 452,393 454.25,392.6 454.75,392.65 455.25,392.9 456,393.52 457.75,395.28 460,396.9 461.5,398.28 462,398.39 462.25,398.27 463.25,397.2 463.75,396.9 464.25,397.02 465.25,397.63 465.75,397.8 469.25,397.65 472.5,397.2 473,396.93 474,396.04 474.5,395.9 476,396.04 478.5,396.58 481.75,398.13 483,398.4 483.25,398.31 483.75,397.67 485.25,394.56 485.75,394.03 486,394.01 486.75,394.39 488.5,396.24 490.25,397.68 490.75,397.8 491,397.74 492,397.11 492.5,396.91 493.25,397.03 494,397.42 496,398.95 498.5,400.62 499.25,400.98 500,401.09 500.5,400.68 501.5,399.1 502,398.51 503,398.22 505.5,397.92 506.25,397.66 506.75,397.05 508,394.81 508.5,394.18 508.75,394.03 509,394 509.5,394.14 511.25,395.18 512,395.28 512.75,394.94 514.75,393.29 515.5,393 516,393.09 516.5,393.41 517.25,394.2 519.25,396.69 521.5,398.48 522.5,399.04 523.25,399.2 523.5,399.14 523.75,398.92 524.25,398.12 525.5,395.53 526,394.96 526.25,394.91 526.5,395.16 526.75,395.69 527.5,397.88 527.75,398.45 528,398.77 528.5,398.69 529.5,397.97 530,397.8 530.5,398.04 531.5,399.04 532,399.19 532.5,398.9 533.25,398.15 533.75,397.82 534,397.87 534.75,399.68 535,399.58 535.25,399.16 536.25,396.44 536.5,396.02 536.75,395.9 537.75,396.12 539.5,396.91 540.5,397.19 544,397.37 546.5,397.36 546.75,397.23 547.25,396.72 549,394.19 551,392.5 551.5,392.23 552,392.1 552.25,392.16 552.75,393.03 554,396.51 554.25,396.84 554.5,396.89 555,396.61 556.25,395.24 556.75,394.92 557,394.91 557.25,394.99 557.75,395.38 559.25,396.98 559.75,397.2 561,397.01 563.25,396.2 564.25,395.94 567.5,395.61 570.25,395.5 570.75,395.59 571.25,395.86 573,397.33 573.75,397.75 581,397.79 581.25,397.68 581.75,397.16 583,395.35 583.5,394.94 583.75,394.9 584.25,395.04 584.75,395.35 586.5,396.92 587.25,397.34 588.5,397.4 592.25,397.31 594.5,397.17 595.25,396.8 596.5,395.84 597,395.57 599.25,395.05 601,394.9 601.25,394.96 601.75,395.39 602.9,397.2"/>
<polyline points="607.9,398.89 609.15,398.54 610.4,398.34 612.15,398.27 613.15,398.39 614.4,398.71 616.15,399.34 618.15,400.89 618.65,401.07 618.9,401.06 619.4,400.44 620.15,398.87 620.65,398.19 621.15,398.21 622.4,399 622.9,399.06 623.4,398.42 624.15,396.79 624.65,396.07 625.4,396.05 627.4,396.45 628.15,396.38 628.9,395.95 630.4,394.76 632.4,393.76 632.9,393.32 633.4,392.64 633.9,391.72 634.4,390.5 635.15,387.51 635.65,384.38 636.15,380.06 636.65,374.36 637.65,358.6 639.65,319.84 640.4,310.73 640.65,309.2 640.9,308.5 641.15,308.65 641.4,309.61 641.65,311.32 642.15,316.55 643.65,336.39 644.15,340.63 644.4,341.82 644.65,342.32 644.9,342.11 645.15,341.2 645.65,337.45 647.4,314.83 647.9,310.25 648.15,308.97 648.4,308.47 648.65,308.8 648.9,309.98 649.4,314.73 649.9,322.15 651.9,360.78 652.9,375.55 653.4,380.75 654.15,386.13 654.9,389.27 655.4,390.51 655.9,391.31 656.4,391.82 657.15,392.26 657.9,392.5 659.15,392.72 661.4,392.91 665.9,392.68 666.65,392.69 666.9,392.79 667.4,393.29 668.65,395.16 669.9,397.6 670.4,398.38 670.65,398.61 671.4,398.83 673.4,399.18 674.9,399.83 675.4,399.94 675.9,399.78 677.15,398.29 678.15,397.51 678.65,397.29 678.9,397.29 679.15,397.44 680.15,398.55 681.15,399.1 681.65,399.19 681.9,399.03 682.15,398.7 682.9,397.35 683.9,395.87 684.65,395.11 685.4,394.61 685.9,394.54 686.15,394.72 686.9,395.76 687.15,395.98 687.4,396 687.65,395.77 688.65,393.99 689.4,393.02 689.9,392.58 690.15,392.54 690.4,392.68 690.65,392.98 691.4,394.35 691.65,394.87 692.4,397.3 692.65,397.9 692.9,398.14 693.15,397.92 694.15,395.63 694.4,395.56 694.65,395.75 695.65,397.2 696.65,398.01 697.15,398.15 698.15,397.73 698.65,397.67 699.65,398.29 699.9,398.35 702.4,398.36 704.4,397.98 707.15,397.84 707.65,397.57 708.65,396.73 709.15,396.48 709.9,396.6 712.65,398.09 713.4,398.36 715.65,398.35 716.9,397.67 718.7,397.37"/>
</g>
<ellipse class="b" cx="65.7" cy="83.1" rx="8.7" ry="22.7"/>
<ellipse class="b" cx="69" cy="156.9" rx="8.75" ry="22.9"/>
<ellipse class="b" cx="72.8" cy="234" rx="9.35" ry="21.2"/>
<ellipse class="b" cx="74.1" cy="313.2" rx="8.2" ry="21.1"/>
<ellipse class="o" cx="152.6" cy="91.6" rx="17.7" ry="14.5"/>
<ellipse class="o" cx="157.5" cy="166.8" rx="20.5" ry="16"/>
<ellipse class="o" cx="161.3" cy="239" rx="18.8" ry="16.1"/>
<ellipse class="o" cx="163.7" cy="314.3" rx="17.7" ry="20"/>
<ellipse class="o" cx="171.2" cy="375.4" rx="16.5" ry="33.4"/>
<ellipse class="b" cx="364.9" cy="77.7" rx="6.3" ry="28.5"/>
<ellipse class="b" cx="367.4" cy="150.5" rx="6.6" ry="28.9"/>
<ellipse class="b" cx="369.6" cy="231.3" rx="6.6" ry="23.8"/>
<ellipse class="b" cx="373" cy="310.5" rx="7" ry="23.8"/>
<ellipse class="o" cx="418" cy="90.5" rx="18.2" ry="15.7"/>
<ellipse class="o" cx="422.4" cy="159.6" rx="20.3" ry="19.7"/>
<ellipse class="o" cx="426" cy="229.7" rx="18.1" ry="25.8"/>
<ellipse class="o" cx="427.7" cy="300.3" rx="17.6" ry="29.9"/>
<ellipse class="o" cx="435.2" cy="360.7" rx="19.2" ry="47.4"/>
<ellipse class="b" cx="548.4" cy="83.1" rx="9.5" ry="22.8"/>
<ellipse class="b" cx="550.7" cy="156.7" rx="9.4" ry="22.8"/>
<ellipse class="b" cx="551" cy="234" rx="9" ry="21"/>
<ellipse class="b" cx="552" cy="310.7" rx="8.1" ry="24.2"/>
<ellipse class="o" cx="643" cy="90.4" rx="18" ry="15.6"/>
<ellipse class="o" cx="640.7" cy="159.5" rx="20.5" ry="19.8"/>
<ellipse class="o" cx="643.2" cy="229.6" rx="17.1" ry="25.4"/>
<ellipse class="o" cx="642.8" cy="303.6" rx="17.9" ry="38.3"/>
<ellipse class="o" cx="644.7" cy="366.2" rx="18.5" ry="40.8"/>
<ellipse class="b" cx="690.5" cy="83.1" rx="13.5" ry="22.6"/>
<ellipse class="b" cx="689.8" cy="156.9" rx="13.8" ry="22.9"/>
<ellipse class="b" cx="689.9" cy="234" rx="13.9" ry="21.2"/>
<ellipse class="b" cx="690.5" cy="310.5" rx="13.3" ry="24"/>
<g stroke="#000" fill="none">
<path d="M37.9 427.1H603M608 427.1H718.5" stroke-width="2"/>
<path d="M600.7 429.6L605.1 424.9M605.9 429.6L610.3 424.9" stroke-width="2"/>
<path d="M67.8 427V430.7M186.8 427V430.7M305.8 427V430.7M424.9 427V430.7M543.9 427V430.7M629.6 427V430.7" stroke-width="1.5"/>
<path d="M127.3 427V429M246.3 427V429M365.4 427V429M484.4 427V429M689.1 427V429" stroke-width="1.5"/>
<path d="M733.6 40L735.05 453.5" stroke-width="2.4"/>
<path d="M729.2 46.6L733.7 39.8L738.2 46.6" stroke-width="2.3" stroke-miterlimit="10"/>
</g>
</svg>
</body></html>
